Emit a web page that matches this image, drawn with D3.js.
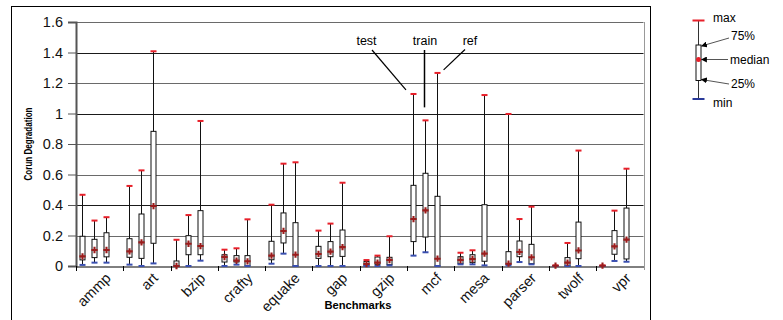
<!DOCTYPE html>
<html><head><meta charset="utf-8">
<script src="https://cdn.jsdelivr.net/npm/d3@7"></script>
<style>
html,body{margin:0;padding:0;background:#fff;}
svg{display:block;}
text{font-family:"Liberation Sans",Arial,sans-serif;}
</style></head>
<body>
<svg id="c" width="783" height="320"></svg>
<script>
const categories = ["ammp","art","bzip","crafty","equake","gap","gzip","mcf","mesa","parser","twolf","vpr"];
const seriesNames = ["test","train","ref"];
// each entry: [min, 25%, median, 75%, max]
const testStats = [
  [0.007,0.040,0.063,0.195,0.467],
  [0.009,0.057,0.096,0.179,0.525],
  [0.000,0.000,0.000,0.033,0.172],
  [0.000,0.026,0.059,0.074,0.107],
  [0.015,0.041,0.068,0.162,0.402],
  [0.000,0.050,0.079,0.129,0.232],
  [0.000,0.002,0.013,0.030,0.039],
  [0.068,0.160,0.308,0.529,1.128],
  [0.011,0.015,0.039,0.061,0.087],
  [0.004,0.011,0.015,0.094,0.997],
  [0.000,0.000,0.002,0.003,0.004],
  [0.000,0.000,0.002,0.003,0.004]
];
const trainStats = [
  [0.022,0.055,0.105,0.175,0.298],
  [0.000,0.050,0.155,0.341,0.627],
  [0.000,0.074,0.146,0.199,0.334],
  [0.009,0.026,0.035,0.068,0.116],
  [0.081,0.151,0.230,0.348,0.671],
  [0.000,0.061,0.094,0.160,0.278],
  [0.000,0.011,0.022,0.059,0.068],
  [0.090,0.190,0.365,0.608,0.955],
  [0.011,0.022,0.046,0.074,0.103],
  [0.026,0.061,0.092,0.164,0.308],
  [0.000,0.000,0.022,0.055,0.151],
  [0.033,0.077,0.129,0.232,0.363]
];
const refStats = [
  [0.022,0.060,0.105,0.218,0.320],
  [0.017,0.149,0.393,0.883,1.408],
  [0.035,0.074,0.131,0.363,0.951],
  [0.000,0.002,0.031,0.068,0.306],
  [0.000,0.000,0.074,0.284,0.680],
  [0.000,0.063,0.124,0.236,0.546],
  [0.004,0.009,0.039,0.057,0.195],
  [0.000,0.000,0.048,0.457,1.266],
  [0.004,0.031,0.081,0.402,1.121],
  [0.011,0.015,0.057,0.142,0.389],
  [0.000,0.048,0.102,0.288,0.757],
  [0.028,0.046,0.173,0.380,0.638]
];
const yTickValues = [0,0.2,0.4,0.6,0.8,1,1.2,1.4,1.6];
const yTickLabels = ["0","0.2","0.4","0.6","0.8","1","1.2","1.4","1.6"];
const legendLabels = ["max","75%","median","25%","min"];
const yTitle = "Corun Degradation";
const xTitle = "Benchmarks";

const allStats = {test:testStats, train:trainStats, ref:refStats};
const svg = d3.select("#c");

const plot = {left:76, right:643.5, top:22, bottom:266};
const x = d3.scaleBand().domain(categories).range([plot.left, plot.right]).padding(0);
const inner = d3.scaleBand().domain([...seriesNames, ""]).range([0, x.bandwidth()]).padding(0);
const y = d3.scaleLinear().domain([0,1.6]).range([plot.bottom, plot.top]);
const cx = (cat, s) => x(cat) + inner(s) + inner.bandwidth()/2;
const cr = v => Math.round(v) + 0.5;

// outer frame
svg.append("rect").attr("x",11.5).attr("y",6.5).attr("width",639).attr("height",330)
  .attr("fill","none").attr("stroke","#000").attr("stroke-width",1);

// gridlines
const gridDark = {0.4:1, 1:1, 1.4:1};
svg.append("g").selectAll("line").data(yTickValues.filter(d=>d>0)).join("line")
  .attr("x1",plot.left).attr("x2",plot.right)
  .attr("y1",d=>cr(y(d))).attr("y2",d=>cr(y(d)))
  .attr("stroke",d=> gridDark[d]? "#1a1a1a":"#6a6a6a").attr("stroke-width",1);
// right border
svg.append("line").attr("x1",cr(plot.right)).attr("x2",cr(plot.right))
  .attr("y1",plot.top).attr("y2",plot.bottom+4).attr("stroke","#999");

// y axis
const yAxis = d3.axisLeft(y).tickValues(yTickValues).tickSize(8).tickPadding(5)
  .tickFormat((d,i)=>yTickLabels[i]);
const gy = svg.append("g").attr("transform",`translate(${plot.left},0)`).call(yAxis);
gy.select(".domain").attr("stroke","#555").attr("stroke-width",2);
gy.selectAll(".tick line").attr("stroke","#555");
gy.selectAll("text").attr("font-size",14.5).attr("fill","#111")
  .attr("font-family","'Liberation Sans',Arial,sans-serif");

// x axis
const xAxis = d3.axisBottom(x).tickSize(0).tickFormat("");
const gx = svg.append("g").attr("transform",`translate(0,${cr(plot.bottom)})`).call(xAxis);
gx.select(".domain").attr("stroke","#000").attr("stroke-width",1);
svg.append("g").selectAll("line").data(categories).join("line")
  .attr("x1",d=>cr(x(d))).attr("x2",d=>cr(x(d)))
  .attr("y1",plot.bottom).attr("y2",plot.bottom+5).attr("stroke","#000");
svg.append("g").selectAll("text").data(categories).join("text")
  .attr("transform",d=>`translate(${x(d)+x.bandwidth()/2+12},${plot.bottom+13}) rotate(-45)`)
  .attr("text-anchor","end").attr("font-size",14.5).attr("fill","#111").text(d=>d);

// boxes
const boxW = 5, capW = 6;
seriesNames.forEach(s=>{
  const g = svg.append("g");
  const data = categories.map((c,i)=>({c, v:allStats[s][i]}));
  const grp = g.selectAll("g").data(data).join("g");
  grp.append("line")
    .attr("x1",d=>cr(cx(d.c,s))).attr("x2",d=>cr(cx(d.c,s)))
    .attr("y1",d=>y(d.v[0])).attr("y2",d=>y(d.v[4])).attr("stroke","#111");
  grp.append("rect")
    .attr("x",d=>cr(cx(d.c,s))-boxW/2).attr("width",boxW)
    .attr("y",d=>y(d.v[3])).attr("height",d=>Math.max(0.5,y(d.v[1])-y(d.v[3])))
    .attr("fill","#fff").attr("stroke","#111").attr("stroke-width",1);
  grp.append("rect")
    .attr("x",d=>cr(cx(d.c,s))-capW/2).attr("width",capW)
    .attr("y",d=>y(d.v[4])-1).attr("height",2).attr("fill","#e8202a");
  grp.append("rect")
    .attr("x",d=>cr(cx(d.c,s))-capW/2).attr("width",capW)
    .attr("y",d=>y(d.v[0])-1).attr("height",2).attr("fill","#3a4fb0");
  grp.append("path")
    .attr("d",d3.symbol(d3.symbolCross,22))
    .attr("transform",d=>`translate(${cr(cx(d.c,s))},${y(d.v[2])})`)
    .attr("fill","#9a1c1c");
});

// annotations for mcf
const mcfI = categories.indexOf("mcf");
const ann = [
  {s:"test", tx:366.5, dx:-7, dy:-4, lx:372, ly:50},
  {s:"train", tx:425, dx:0, dy:-13, lx:null, ly:50},
  {s:"ref", tx:470, dx:7, dy:-3, lx:465, ly:49.5}
];
const ga = svg.append("g");
ann.forEach(a=>{
  const px = cx("mcf",a.s), py = y(allStats[a.s][mcfI][4]);
  ga.append("text").attr("x",a.tx).attr("y",45).attr("text-anchor","middle")
    .attr("font-family","'DejaVu Sans',Verdana,sans-serif").attr("font-size",12.5).text(a.s);
  if (a.s==="train") {
    ga.append("line").attr("x1",424.5).attr("x2",424.5).attr("y1",a.ly).attr("y2",py+a.dy)
      .attr("stroke","#000").attr("stroke-width",1.5);
  } else {
    ga.append("line").attr("x1",a.lx).attr("y1",a.ly).attr("x2",px+a.dx).attr("y2",py+a.dy)
      .attr("stroke","#000").attr("stroke-width",1.2);
  }
});

// axis titles
svg.append("text").attr("transform","translate(32,144) rotate(-90)")
  .attr("text-anchor","middle").attr("font-weight","bold").attr("font-size",10)
  .attr("textLength",73).attr("lengthAdjust","spacingAndGlyphs").text(yTitle);
svg.append("text").attr("x",358).attr("y",309)
  .attr("text-anchor","middle").attr("font-weight","bold").attr("font-size",10.5)
  .attr("textLength",67).attr("lengthAdjust","spacingAndGlyphs").text(xTitle);

// legend
const lg = svg.append("g");
const lx = 698.5;
const ly = {max:20.5, q3:45, med:59.5, q1:80.5, min:99};
svg.append("defs").append("marker").attr("id","arr").attr("viewBox","0 0 10 10")
  .attr("refX",9).attr("refY",5).attr("markerWidth",6).attr("markerHeight",6).attr("orient","auto")
  .append("path").attr("d","M0,0L10,5L0,10z").attr("fill","#000");
lg.append("line").attr("x1",lx).attr("x2",lx).attr("y1",ly.max).attr("y2",ly.min).attr("stroke","#333");
lg.append("rect").attr("x",lx-2.5).attr("width",5).attr("y",ly.q3).attr("height",ly.q1-ly.q3)
  .attr("fill","#fff").attr("stroke","#111");
lg.append("rect").attr("x",lx-6).attr("width",12).attr("y",ly.max-1).attr("height",2).attr("fill","#e8202a");
lg.append("rect").attr("x",lx-6).attr("width",12).attr("y",ly.min-1).attr("height",2).attr("fill","#2a3a9a");
lg.append("circle").attr("cx",lx).attr("cy",ly.med).attr("r",2.5).attr("fill","#e8202a");
const legText = [
  {t:legendLabels[0], x:713, y:ly.max-3},
  {t:legendLabels[1], x:731, y:36},
  {t:legendLabels[2], x:730, y:ly.med},
  {t:legendLabels[3], x:731, y:84},
  {t:legendLabels[4], x:713, y:ly.min+4}
];
lg.selectAll("text").data(legText).join("text")
  .attr("x",d=>d.x).attr("y",d=>d.y).attr("dy","0.35em")
  .attr("font-size",12).text(d=>d.t);
[[729,38,lx+3,ly.q3+1],[728,ly.med,lx+3,ly.med],[729,84,lx+3,ly.q1-1]].forEach(p=>{
  lg.append("line").attr("x1",p[0]).attr("y1",p[1]).attr("x2",p[2]).attr("y2",p[3])
    .attr("stroke","#555").attr("stroke-width",1).attr("marker-end","url(#arr)");
});
</script>
</body></html>
